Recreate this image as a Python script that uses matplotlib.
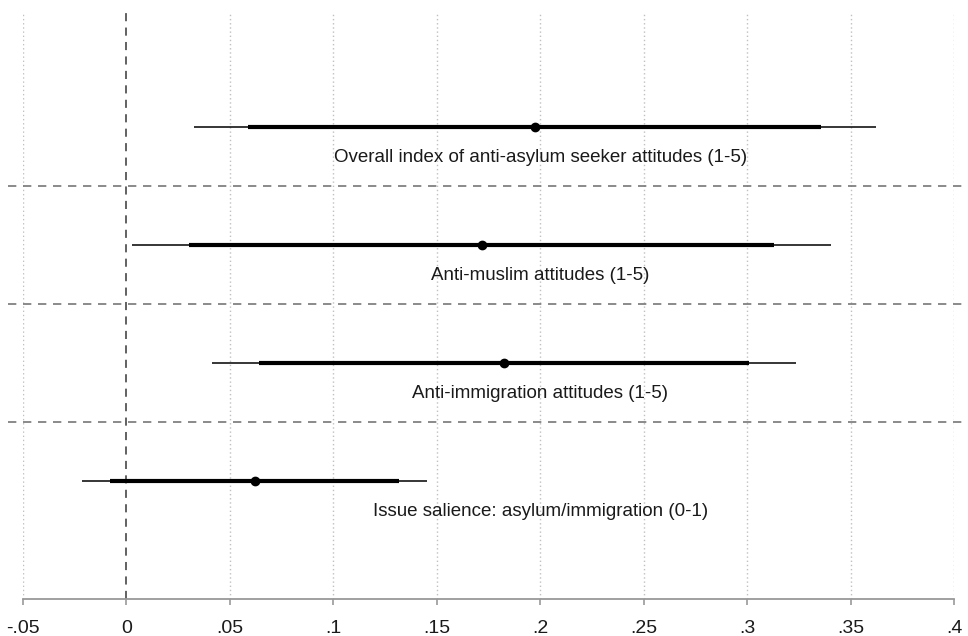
import numpy as np
import matplotlib.pyplot as plt

plt.rcParams['font.family'] = ['Liberation Sans', 'DejaVu Sans']

labels = ["Overall index of anti-asylum seeker attitudes (1-5)",
          "Anti-muslim attitudes (1-5)",
          "Anti-immigration attitudes (1-5)",
          "Issue salience: asylum/immigration (0-1)"]
coef = [0.1976, 0.172, 0.1826, 0.062]
ci95_lo = [0.0324, 0.0029, 0.0415, -0.0213]
ci95_hi = [0.3623, 0.3406, 0.3237, 0.1454]
ci90_lo = [0.0589, 0.030, 0.0643, -0.0082]
ci90_hi = [0.3357, 0.313, 0.301, 0.1319]
xticks = [-0.05, 0, 0.05, 0.1, 0.15, 0.2, 0.25, 0.3, 0.35, 0.4]
xticklabels = ["-.05", "0", ".05", ".1", ".15", ".2", ".25", ".3", ".35", ".4"]

fig = plt.figure(figsize=(9.68, 6.36), dpi=100)
ax = fig.add_axes([0.0238, 0.0582, 0.9617, 0.9276])

ypos = np.arange(1, len(coef) + 1)

# light dotted grid at the ticks
for t in xticks:
    if t != 0:
        ax.axvline(t, ymax=0.995, color='#c0c0c0', lw=1.0, ls=(0, (1, 2)), zorder=0)
ax.axvline(0, ymax=0.995, color='#555555', lw=1.3, ls=(0, (4.5, 3.5)), zorder=1)

# separators between the outcomes
for y in ypos[:-1] + 0.5:
    ax.plot([-0.016, 1.03], [y, y], transform=ax.get_yaxis_transform(),
            color='#777777', lw=1.2, ls=(0, (5, 4)), clip_on=False, zorder=1)

ax.hlines(ypos, ci95_lo, ci95_hi, color='black', lw=1.1, zorder=3)
ax.hlines(ypos, ci90_lo, ci90_hi, color='black', lw=3.0, zorder=4)
ax.plot(coef, ypos, 'o', color='black', ms=6, zorder=5)

for y, lab in zip(ypos, labels):
    ax.text(0.2, y + 0.26, lab, ha='center', va='center', fontsize=13.5,
            color='#1a1a1a')

ax.set_xlim(-0.05, 0.4)
ax.set_ylim(5.0, 0.0)
ax.set_xticks(xticks)
ax.set_xticklabels(xticklabels, fontsize=14)
ax.set_yticks([])
for s in ['top', 'right', 'left']:
    ax.spines[s].set_visible(False)
ax.spines['bottom'].set_color('#999999')
ax.spines['bottom'].set_linewidth(1.3)
ax.tick_params(axis='x', length=4, width=1.2, color='#999999', pad=11,
               labelcolor='#1a1a1a')

fig.savefig('out.png', dpi=100)
